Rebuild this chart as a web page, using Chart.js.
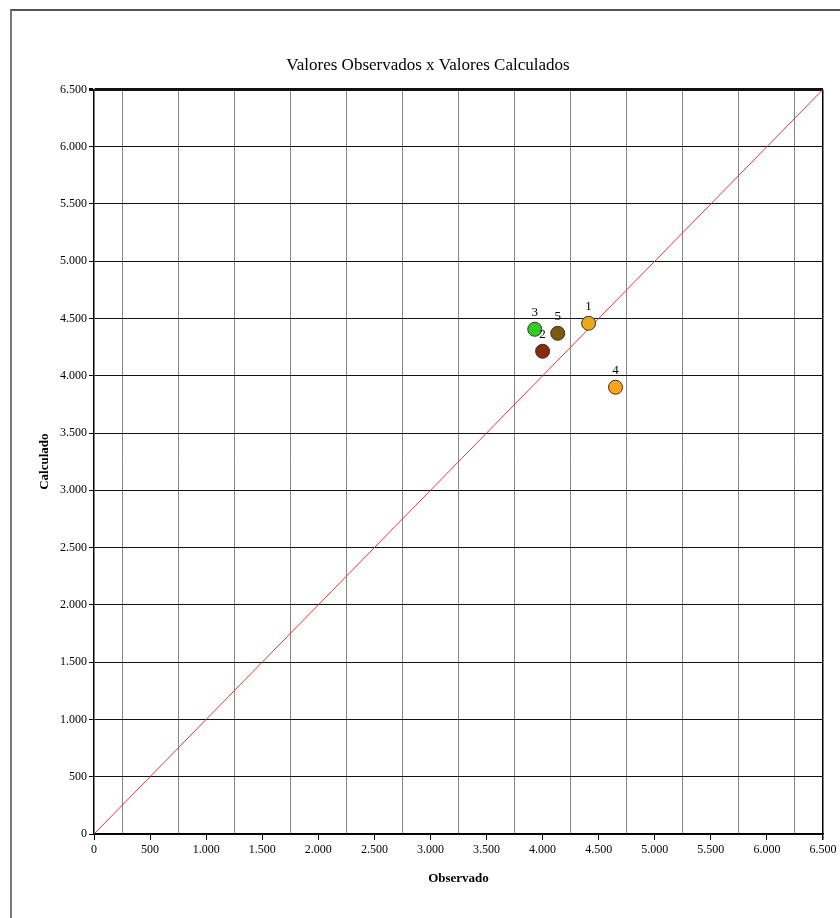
<!DOCTYPE html>
<html>
<head>
<meta charset="utf-8">
<script src="https://cdn.jsdelivr.net/npm/chart.js@4/dist/chart.umd.min.js"></script>
<style>
  body { margin: 0; background: #fff; }
  #wrap { position: relative; width: 840px; height: 918px; overflow: hidden; }
  #frame { position: absolute; left: 10px; top: 9px; width: 900px; height: 1000px;
           border-left: 2px solid #777; border-top: 2px solid #555; pointer-events: none; }
</style>
</head>
<body>
<div id="wrap">
  <canvas id="scatterChart" width="840" height="918"></canvas>
  <div id="frame"></div>
</div>
<script>
// pontos observados x calculados
const pointLabels = ['1', '2', '3', '4', '5'];
const observado = [4410, 4000, 3930, 4650, 4135];
const calculado = [4458, 4214, 4406, 3900, 4371];
const pointColors = ['#E8A818', '#8B2A0A', '#33CC22', '#FFA31A', '#7A5A0C'];

// reta 1:1
const lineX = [0, 6500];
const lineY = [0, 6500];

const axisMin = 0;
const axisMax = 6500;

const fmt = v => String(v).replace(/\B(?=(\d{3})+(?!\d))/g, '.');

const pointData = observado.map((x, i) => ({ x: x, y: calculado[i] }));
const lineData = lineX.map((x, i) => ({ x: x, y: lineY[i] }));

// numeros acima dos pontos
const labelPlugin = {
  id: 'pointNumbers',
  afterDatasetsDraw(chart) {
    const ctx = chart.ctx;
    const meta = chart.getDatasetMeta(0);
    ctx.save();
    ctx.font = '13px "Liberation Serif"';
    ctx.fillStyle = '#000';
    ctx.textAlign = 'center';
    ctx.textBaseline = 'middle';
    meta.data.forEach((pt, i) => {
      ctx.fillText(pointLabels[i], pt.x, pt.y - 17);
    });
    ctx.restore();
  }
};

const serif = '"Liberation Serif", "Times New Roman", serif';

new Chart(document.getElementById('scatterChart'), {
  type: 'scatter',
  data: {
    datasets: [{
      label: 'Pontos',
      data: pointData,
      pointRadius: 7,
      pointHoverRadius: 7,
      pointBackgroundColor: pointColors,
      pointBorderColor: '#333',
      pointBorderWidth: 1
    }, {
      label: 'Reta',
      data: lineData,
      showLine: true,
      borderColor: '#E03A3A',
      borderWidth: 1,
      pointRadius: 0
    }]
  },
  options: {
    responsive: false,
    animation: false,
    layout: { padding: { top: 40, left: 33, right: 17, bottom: 28 } },
    plugins: {
      legend: { display: false },
      tooltip: { enabled: false },
      title: {
        display: true,
        text: 'Valores Observados x Valores Calculados',
        color: '#000',
        font: { family: serif, size: 17, weight: 'normal' },
        padding: { top: 15, bottom: 14 }
      }
    },
    scales: {
      x: {
        type: 'linear',
        min: axisMin,
        max: axisMax,
        afterFit: s => { s.height = 56; },
        border: { display: true, color: '#000', width: 1.5 },
        grid: {
          color: c => {
            const v = c.tick ? c.tick.value : 0;
            if (v === axisMax) return '#000';
            return v % 500 === 0 ? 'rgba(0,0,0,0)' : '#888';
          },
          lineWidth: c => (c.tick && c.tick.value === axisMax ? 1.5 : 1),
          tickColor: c => (c.tick && c.tick.value % 500 === 0 ? '#000' : 'rgba(0,0,0,0)'),
          tickLength: 6
        },
        ticks: {
          stepSize: 250,
          autoSkip: false,
          maxRotation: 0,
          padding: 3,
          color: '#000',
          font: { family: serif, size: 12 },
          callback: v => (v % 500 === 0 ? fmt(v) : '')
        },
        title: {
          display: true,
          text: 'Observado',
          color: '#000',
          font: { family: serif, size: 13, weight: 'bold' },
          padding: { top: 2, bottom: 4 }
        }
      },
      y: {
        type: 'linear',
        min: axisMin,
        max: axisMax,
        afterFit: s => { s.width = 61; },
        border: { display: true, color: '#000', width: 1.5 },
        grid: {
          color: '#111',
          lineWidth: c => (c.tick && c.tick.value === axisMax ? 3 : 1),
          tickColor: '#000',
          tickLength: 5
        },
        ticks: {
          stepSize: 500,
          padding: 2,
          color: '#000',
          font: { family: serif, size: 12 },
          callback: v => fmt(v)
        },
        title: {
          display: true,
          text: 'Calculado',
          color: '#000',
          font: { family: serif, size: 13, weight: 'bold' },
          padding: { top: 4, bottom: 2 }
        }
      }
    }
  },
  plugins: [labelPlugin]
});
</script>
</body>
</html>
